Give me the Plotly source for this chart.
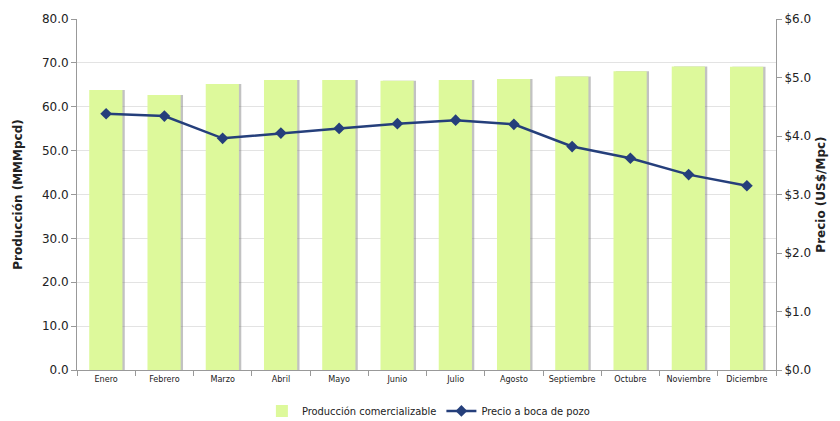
import plotly.graph_objects as go

meses = ["Enero", "Febrero", "Marzo", "Abril", "Mayo", "Junio", "Julio",
         "Agosto", "Septiembre", "Octubre", "Noviembre", "Diciembre"]
produccion = [63.8, 62.7, 65.2, 66.1, 66.1, 65.9, 66.1, 66.3, 66.9, 68.1, 69.2, 69.1]
precio = [4.38, 4.34, 3.96, 4.05, 4.13, 4.21, 4.27, 4.20, 3.82, 3.62, 3.34, 3.15]

y1_ticks = [0, 10, 20, 30, 40, 50, 60, 70, 80]
y2_ticks = [0, 1, 2, 3, 4, 5, 6]

fig = go.Figure()
# soft shadow behind bars
fig.add_trace(go.Bar(x=meses, y=produccion, width=0.57, offset=-0.25,
                     marker=dict(color="rgba(120,120,120,0.45)", line=dict(width=0)),
                     showlegend=False, hoverinfo="skip"))
fig.add_trace(go.Bar(x=meses, y=produccion, name="Producción comercializable",
                     width=0.57, offset=-0.29,
                     marker=dict(color="#DDF99B", line=dict(width=0))))
fig.add_trace(go.Scatter(x=meses, y=precio, name="Precio a boca de pozo", yaxis="y2",
                         mode="lines+markers",
                         line=dict(color="#253F7B", width=2.5),
                         marker=dict(symbol="diamond", size=9, color="#253F7B")))

fig.update_layout(
    width=840, height=421,
    margin=dict(l=77, r=64, t=19, b=51, autoexpand=False),
    paper_bgcolor="white", plot_bgcolor="white",
    barmode="overlay",
    showlegend=True,
    legend=dict(orientation="h", x=0.51, xanchor="center", y=0.024, yanchor="middle",
                yref="container", xref="container",
                font=dict(family="DejaVu Sans Condensed, DejaVu Sans", size=11, color="#222"),
                itemwidth=30, traceorder="normal"),
    xaxis=dict(type="category", tickson="boundaries", ticks="outside", ticklen=5,
               tickcolor="#999", showline=True, linecolor="#999", linewidth=1,
               tickfont=dict(family="DejaVu Sans Condensed, DejaVu Sans", size=9, color="#222"),
               showgrid=False, range=[-0.5, 11.5]),
    yaxis=dict(range=[0, 80], tickvals=y1_ticks,
               ticktext=[f"{v:.1f}" for v in y1_ticks],
               showgrid=True, gridcolor="#E3E3E3", gridwidth=1,
               showline=True, linecolor="#999", linewidth=1,
               ticks="outside", ticklen=5, tickcolor="#999",
               tickfont=dict(family="DejaVu Sans", size=12, color="#222"),
               title=dict(text="<b>Producción (MMMpcd)</b>", standoff=16,
                          font=dict(family="DejaVu Sans", size=12, color="#222")),
               zeroline=False),
    yaxis2=dict(range=[0, 6], tickvals=y2_ticks,
                ticktext=[f"${v:.1f}" for v in y2_ticks],
                overlaying="y", side="right", showgrid=False,
                showline=True, linecolor="#999", linewidth=1,
                ticks="outside", ticklen=5, tickcolor="#999",
                tickfont=dict(family="DejaVu Sans", size=12, color="#222"),
                title=dict(text="<b>Precio (US$/Mpc)</b>", standoff=6,
                           font=dict(family="DejaVu Sans", size=12, color="#222")),
                zeroline=False),
)

fig.write_html("out.html")
